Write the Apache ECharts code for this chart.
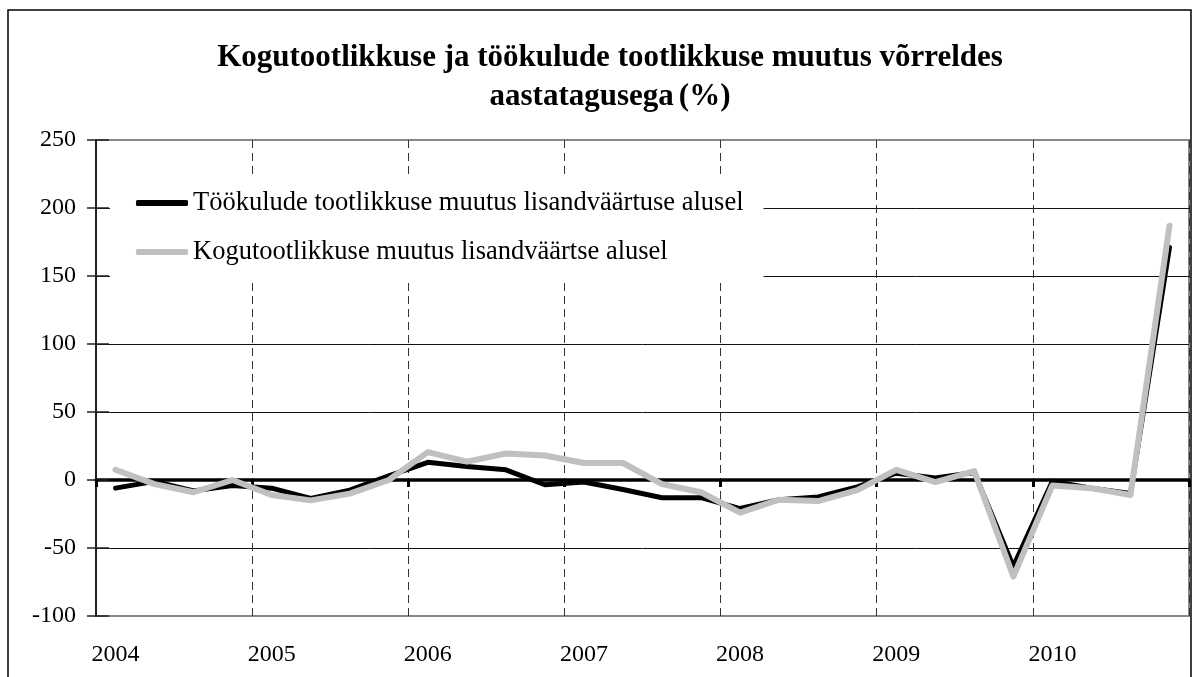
<!DOCTYPE html>
<html>
<head>
<meta charset="utf-8">
<title>Kogutootlikkuse muutus</title>
<script src="https://cdn.jsdelivr.net/npm/echarts@6/dist/echarts.min.js"></script>
<style>
  body { margin: 0; background: #fff; }
  #ichart { width: 1197px; height: 677px; }
</style>
</head>
<body>
<div id="ichart"></div>
<script>
// kvartalid 2004 I ... 2010 IV
var categories = [
  '2004 I', '2004 II', '2004 III', '2004 IV',
  '2005 I', '2005 II', '2005 III', '2005 IV',
  '2006 I', '2006 II', '2006 III', '2006 IV',
  '2007 I', '2007 II', '2007 III', '2007 IV',
  '2008 I', '2008 II', '2008 III', '2008 IV',
  '2009 I', '2009 II', '2009 III', '2009 IV',
  '2010 I', '2010 II', '2010 III', '2010 IV'
]
var tookuludData = [-6, -1, -8, -4, -6, -13.5, -7.5, 3, 13, 10, 7.5, -3.5, -1.5, -7, -13, -13, -21, -14.5, -12.5, -5, 5, 1.5, 5.5, -63.5, -1, -6, -10, 171]
var koguData = [7.5, -3, -9, 0, -11, -15, -10, 0, 20.5, 13.5, 19.5, 18, 12.5, 12.5, -3, -9, -24, -14.5, -15.5, -7.5, 7.5, -1.5, 6.5, -71, -4, -6, -11, 187]
var yTicks = { min: -100, max: 250, step: 50 }
var seriesNames = ['Töökulude tootlikkuse muutus lisandväärtuse alusel', 'Kogutootlikkuse muutus lisandväärtse alusel']

var font = 'Liberation Serif'
var myChart = echarts.init(document.getElementById('ichart'))

var option = {
  backgroundColor: '#fff',
  animation: false,
  title: {
    left: 'center',
    top: 38,
    padding: 0,
    text: '{b|Kogutootlikkuse ja töökulude tootlikkuse muutus võrreldes}\n{b|aastatagusega} {n|(%)}',
    textStyle: {
      lineHeight: 39,
      rich: {
        b: { fontFamily: font, fontSize: 31, fontWeight: 'bold', color: '#000', lineHeight: 39, padding: [0, 0, 0, 23] },
        n: { fontFamily: font, fontSize: 31, color: '#000', lineHeight: 39 }
      }
    }
  },
  graphic: [
    {
      // välimine raam
      type: 'rect',
      shape: { x: 8, y: 10, width: 1183, height: 700 },
      style: { fill: 'none', stroke: '#000', lineWidth: 1.5 },
      silent: true
    }
  ],
  legend: {
    orient: 'vertical',
    left: 110,
    top: 176,
    padding: [12, 20, 11, 26],
    itemGap: 19,
    itemWidth: 52,
    itemHeight: 6,
    icon: 'roundRect',
    backgroundColor: '#fff',
    data: seriesNames,
    textStyle: { fontFamily: font, fontSize: 26.5, color: '#000', lineHeight: 30 }
  },
  grid: {
    left: 96,
    right: 8,
    top: 140,
    bottom: 61,
    show: true,
    borderColor: '#888',
    borderWidth: 2
  },
  xAxis: [
    {
      type: 'category',
      data: categories,
      position: 'bottom',
      boundaryGap: true,
      axisLine: { show: false, onZero: false },
      axisTick: { show: false },
      axisLabel: {
        interval: 3,
        margin: 27,
        fontFamily: font,
        fontSize: 24,
        color: '#000',
        formatter: function (value) {
          return value.slice(0, 4)
        }
      },
      splitLine: {
        show: true,
        interval: 3,
        lineStyle: { color: '#333', width: 1, type: [8, 5] }
      }
    },
    {
      // nulljoon koos aastate tikkidega
      type: 'category',
      data: categories,
      position: 'bottom',
      boundaryGap: true,
      axisLine: { show: true, onZero: true, onZeroAxisIndex: 0, lineStyle: { color: '#000', width: 3.5 } },
      axisTick: { show: true, interval: 3, length: 7, lineStyle: { color: '#000', width: 3 } },
      axisLabel: { show: false },
      splitLine: { show: false }
    }
  ],
  yAxis: [
    {
      type: 'value',
      min: yTicks.min,
      max: yTicks.max,
      interval: yTicks.step,
      axisLine: { show: true, lineStyle: { color: '#222', width: 2 } },
      axisTick: { show: true, length: 9, lineStyle: { color: '#222', width: 1.5 } },
      axisLabel: { margin: 20, fontFamily: font, fontSize: 24, color: '#000' },
      splitLine: { show: true, showMinLine: false, showMaxLine: false, lineStyle: { color: '#111', width: 1 } }
    },
    {
      // tikid ka telje sisse poole
      type: 'value',
      position: 'left',
      min: yTicks.min,
      max: yTicks.max,
      interval: yTicks.step,
      axisLine: { show: false },
      axisTick: { show: true, inside: true, length: 13, lineStyle: { color: '#222', width: 1.5 } },
      axisLabel: { show: false },
      splitLine: { show: false }
    }
  ],
  series: [
    {
      name: seriesNames[0],
      type: 'line',
      data: tookuludData,
      symbol: 'none',
      lineStyle: { color: '#000', width: 5, cap: 'round', join: 'round' },
      itemStyle: { color: '#000' },
      z: 3
    },
    {
      name: seriesNames[1],
      type: 'line',
      data: koguData,
      symbol: 'none',
      lineStyle: { color: '#c0c0c0', width: 6, cap: 'round', join: 'round' },
      itemStyle: { color: '#c0c0c0' },
      z: 4
    }
  ]
}

option && myChart.setOption(option)
</script>
</body>
</html>
